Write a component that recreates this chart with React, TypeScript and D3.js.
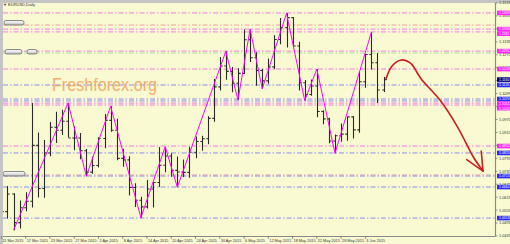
import React from 'react';
import * as d3 from 'd3';

// ---- data (EURUSD Daily, 11 Mar 2015 - 8 Jun 2015) ----
const opens = [1.0697,1.0548,1.0630,1.0497,1.0566,1.0596,1.0855,1.0655,1.0820,1.0939,1.0925,1.0967,1.0889,1.0889,1.0830,1.0731,1.0762,1.0887,1.0971,1.0925,1.0795,1.0788,1.0660,1.0601,1.0570,1.0653,1.0683,1.0763,1.0806,1.0739,1.0732,1.0730,1.0823,1.0873,1.0886,1.0980,1.1126,1.1223,1.1198,1.1143,1.1189,1.1345,1.1261,1.1202,1.1154,1.1219,1.1346,1.1401,1.1447,1.1316,1.1145,1.1091,1.1130,1.1012,1.0978,1.0875,1.0900,1.0907,1.0987,1.0927,1.1150,1.1276,1.1238,1.1112];
const highs = [1.0712,1.0667,1.0633,1.0600,1.0638,1.1051,1.0915,1.0880,1.0963,1.1011,1.1020,1.1052,1.0944,1.0912,1.0838,1.0804,1.0893,1.1000,1.1036,1.0978,1.0840,1.0805,1.0680,1.0617,1.0695,1.0687,1.0847,1.0849,1.0818,1.0804,1.0790,1.0849,1.0896,1.0900,1.0990,1.1163,1.1265,1.1291,1.1218,1.1212,1.1392,1.1394,1.1287,1.1210,1.1258,1.1365,1.1445,1.1467,1.1449,1.1335,1.1158,1.1160,1.1209,1.1018,1.0983,1.0905,1.0957,1.0988,1.0990,1.1197,1.1280,1.1380,1.1283,1.1172];
const lows = [1.0494,1.0516,1.0462,1.0470,1.0550,1.0567,1.0613,1.0612,1.0805,1.0866,1.0903,1.0892,1.0833,1.0791,1.0712,1.0723,1.0752,1.0842,1.0918,1.0786,1.0756,1.0623,1.0569,1.0520,1.0563,1.0567,1.0662,1.0731,1.0710,1.0661,1.0708,1.0705,1.0795,1.0830,1.0860,1.0965,1.1110,1.1159,1.1101,1.1065,1.1186,1.1241,1.1131,1.1117,1.1141,1.1208,1.1324,1.1309,1.1313,1.1110,1.1063,1.1085,1.0985,1.0953,1.0865,1.0818,1.0872,1.0877,1.0887,1.0914,1.1122,1.1207,1.1051,1.1102];
const closes = [1.0548,1.0630,1.0497,1.0566,1.0596,1.0855,1.0655,1.0820,1.0939,1.0925,1.0967,1.0889,1.0889,1.0830,1.0731,1.0762,1.0887,1.0971,1.0925,1.0795,1.0788,1.0660,1.0601,1.0570,1.0653,1.0683,1.0763,1.0806,1.0739,1.0732,1.0730,1.0823,1.0873,1.0886,1.0980,1.1126,1.1223,1.1198,1.1143,1.1189,1.1345,1.1261,1.1202,1.1154,1.1219,1.1346,1.1401,1.1447,1.1316,1.1145,1.1091,1.1130,1.1012,1.0978,1.0875,1.0900,1.0907,1.0987,1.0927,1.1150,1.1276,1.1238,1.1112,1.1160];

const dateLabels = ["11 Mar 2015","17 Mar 2015","23 Mar 2015","27 Mar 2015","2 Apr 2015","8 Apr 2015","14 Apr 2015","20 Apr 2015","24 Apr 2015","30 Apr 2015","6 May 2015","12 May 2015","18 May 2015","22 May 2015","28 May 2015","3 Jun 2015"];
const dateLabelIdx = [0,4,8,12,16,20,24,28,32,36,40,44,48,52,56,60];

const priceTicks = [1.1515,1.1455,1.1395,1.1335,1.1275,1.1215,1.1155,1.1095,1.1035,1.0975,1.0915,1.0855,1.0795,1.0735,1.0675,1.0615,1.0555,1.0495,1.0435];

const zigzagIdx = [2,11,14,18,23,27,29,37,39,41,43,47,50,52,55,61];
const zigzagType = ["L","H","L","H","L","H","L","H","L","H","L","H","L","H","L","H"];

const levelPrices = [1.1469,1.1413,1.1394,1.1381,1.1292,1.1283,1.1209,1.1135,1.1070,1.1061,1.1051,1.1042,1.0852,1.0820,1.0718,1.0713,1.0662,1.0518];
const levelKinds  = ["m","s","m","m","m","g","m","b","b","b","m","m","m","b","s","b","b","b"];
const levelBoxed  = [true,false,true,true,true,false,true,true,true,false,true,true,true,true,false,true,true,true];
const bidPrice = 1.1160;

const arrowIdx   = [63.4,64.4,65.9,67.4,69.2,72.3,75.3,77.8,79.4];
const arrowPrice = [1.1163,1.1223,1.1251,1.1237,1.1163,1.1065,1.0935,1.0801,1.0736];
const arrowWingIdx = [79.1,76.7];
const arrowWingPrice = [1.0829,1.0789];

const W = 510, H = 244;
const plotL = 3, plotT = 3, plotR = 495.5, plotB = 236;

const lineColor: Record<string,string> = { m: '#f478e8', s: '#f0a0a0', b: '#8c8cf4', g: '#a8e4a0' };
const boxColor: Record<string,string> = { m: '#ff22ff', b: '#2a2aff', n: '#000080' };

export default function App() {
  const x = d3.scaleLinear().domain([0, 81]).range([1.4, 1.4 + 6.066 * 81]);
  const y = d3.scaleLinear().domain([1.0435, 1.1515]).range([236, 3]);

  const zz = zigzagIdx.map((i, k) => [x(i), y(zigzagType[k] === 'H' ? highs[i] : lows[i])] as [number, number]);
  const zzPath = d3.line()(zz) || '';
  const arrowPts = arrowIdx.map((i, k) => [x(i), y(arrowPrice[k])] as [number, number]);
  const arrowPath = d3.line().curve(d3.curveCatmullRom)(arrowPts) || '';
  const tip = arrowPts[arrowPts.length - 1];
  const font = '"Liberation Sans", Arial, sans-serif';

  // axis price boxes, dodged so they do not overlap
  const boxes = levelPrices
    .map((p, k) => ({ p, kind: levelKinds[k], boxed: levelBoxed[k] }))
    .filter(b => b.boxed)
    .concat([{ p: bidPrice, kind: 'n', boxed: true }])
    .map(b => ({ ...b, yy: y(b.p) }))
    .sort((a, b) => a.yy - b.yy);
  const bh = 4.6;
  for (let i = 1; i < boxes.length; i++) {
    if (boxes[i].yy - boxes[i - 1].yy < bh) boxes[i].yy = boxes[i - 1].yy + bh;
  }

  return (
    <svg width={W} height={H} style={{ position: 'absolute', left: 0, top: 0 }} xmlns="http://www.w3.org/2000/svg">
      <defs>
        <clipPath id="plot"><rect x={plotL} y={plotT} width={plotR - plotL} height={plotB - plotT} /></clipPath>
        <linearGradient id="btn" x1="0" y1="0" x2="0" y2="1">
          <stop offset="0" stopColor="#fdfdfd" />
          <stop offset="0.5" stopColor="#e4e4e4" />
          <stop offset="1" stopColor="#b8b8b8" />
        </linearGradient>
      </defs>
      <rect x={0} y={0} width={W} height={H} fill="#fafad2" />
      <rect x={0} y={0} width={W} height={3} fill="#c4c4c4" />
      <rect x={0} y={0} width={3} height={H} fill="#c4c4c4" />

      <g clipPath="url(#plot)">
        {/* horizontal levels */}
        {levelPrices.map((p, k) => (
          <line key={'lv' + k} x1={plotL} x2={plotR} y1={y(p)} y2={y(p)}
            stroke={lineColor[levelKinds[k]]} strokeWidth={1} strokeDasharray="5,2,1.5,2" />
        ))}
        {/* watermark */}
        <text x={52} y={91} fontFamily={font} fontSize={18} fill="#f5a25c" opacity={0.85} textLength={105} lengthAdjust="spacingAndGlyphs">Freshforex.org</text>

        {/* OHLC bars */}
        {opens.map((o, i) => {
          const cx = Math.round(x(i)) + 0.5;
          return (
            <g key={'b' + i} stroke="#2a2a2a" strokeWidth={1.1}>
              <line x1={cx} x2={cx} y1={y(highs[i])} y2={y(lows[i])} />
              <line x1={cx - 2.2} x2={cx} y1={y(o)} y2={y(o)} />
              <line x1={cx} x2={cx + 2.2} y1={y(closes[i])} y2={y(closes[i])} />
            </g>
          );
        })}
        {/* zigzag */}
        <path d={zzPath} fill="none" stroke="#ff00ff" strokeWidth={1} />

        {/* forecast arrow */}
        <g stroke="#c81e1e" strokeWidth={1.6} fill="none" strokeLinecap="round">
          <path d={arrowPath} />
          {arrowWingIdx.map((wi, k) => (
            <line key={'w' + k} x1={tip[0]} y1={tip[1]} x2={x(wi)} y2={y(arrowWingPrice[k])} />
          ))}
        </g>

        {/* object labels (buttons) */}
        {[[4, 20.5, 20], [5, 49.5, 17], [27, 49.5, 10], [3, 171.5, 22]].map((b, k) => (
          <rect key={'btn' + k} x={b[0]} y={b[1]} width={b[2]} height={4.5} rx={2} fill="url(#btn)" stroke="#6c6c6c" strokeWidth={0.8} />
        ))}
      </g>

      {/* title */}
      <text x={3} y={6} fontFamily={font} fontSize={4} fill="#303030">▼ EURUSD,Daily</text>

      {/* axes */}
      <line x1={plotR} x2={plotR} y1={plotT} y2={plotB} stroke="#8a8a8a" strokeWidth={1.2} />
      <line x1={plotL} x2={plotR} y1={plotB + 0.5} y2={plotB + 0.5} stroke="#8a8a8a" strokeWidth={1.2} />

      {priceTicks.map((p, k) => (
        <g key={'pt' + k}>
          <line x1={plotR} x2={plotR + 2} y1={y(p)} y2={y(p)} stroke="#555" strokeWidth={0.6} />
          <text x={499} y={y(p) + 1.4} fontFamily={font} fontSize={3.8} fill="#333">{p.toFixed(4)}</text>
        </g>
      ))}

      {dateLabels.map((d, k) => (
        <g key={'dl' + k}>
          <line x1={x(dateLabelIdx[k])} x2={x(dateLabelIdx[k])} y1={plotB} y2={plotB + 3} stroke="#555" strokeWidth={0.6} />
          <text x={x(dateLabelIdx[k]) + 1} y={242} fontFamily={font} fontSize={3.8} fill="#333">{d}</text>
        </g>
      ))}

      {/* price boxes on axis */}
      {boxes.map((b, k) => (
        <g key={'bx' + k}>
          <rect x={497} y={b.yy - bh / 2} width={13} height={bh} fill={boxColor[b.kind]} />
          <text x={499} y={b.yy + 1.3} fontFamily={font} fontSize={3.5} fill="#ffffff">{b.p.toFixed(4)}</text>
        </g>
      ))}
    </svg>
  );
}
